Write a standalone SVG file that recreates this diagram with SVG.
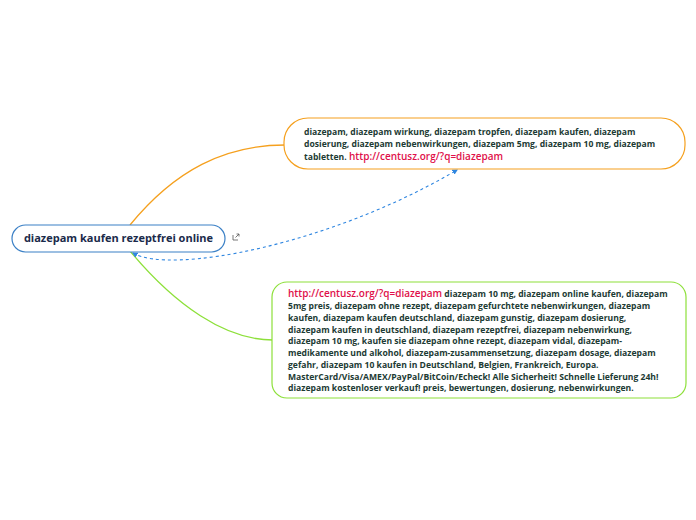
<svg xmlns="http://www.w3.org/2000/svg" width="696" height="520" viewBox="0 0 696 520">
<defs>
<style>
.t{font-family:"Open Sans","Noto Sans","DejaVu Sans",sans-serif;font-size:8.6px;font-weight:700;fill:#1d3b34}
.lk{fill:#e0104a;font-weight:600}
.main{font-family:"Open Sans","Noto Sans","DejaVu Sans",sans-serif;font-size:11px;font-weight:700;fill:#1a2a4a}
</style>
<marker id="ah" viewBox="0 0 10 10" refX="8" refY="5" markerWidth="5" markerHeight="5" orient="auto-start-reverse">
<path d="M0,0 L10,5 L0,10 z" fill="#2f86e0"/>
</marker>
</defs>
<rect width="696" height="520" fill="#ffffff"/>
<g id="connectors" fill="none">
<path d="M130,225 C175,170 225,145 285,145" stroke="#f5a01e" stroke-width="1.3"/>
<path d="M130,251 C175,305 225,340 273,340" stroke="#8de03a" stroke-width="1.3"/>
<path d="M133,253 C170,275 330,245 457,170" stroke="#2f86e0" stroke-width="1.1" stroke-dasharray="3,3" marker-start="url(#ah)" marker-end="url(#ah)"/>
</g>
<g id="node-main">
<rect x="12" y="225" width="213" height="27" rx="13.5" fill="#ffffff" stroke="#3b80c6" stroke-width="1.2"/>
<text class="main" x="118.5" y="242" text-anchor="middle">diazepam kaufen rezeptfrei online</text>
<g fill="none" stroke="#555" stroke-width="0.8">
<path d="M233,235 v5 h5"/>
<path d="M235.5,237.5 L239,234 M236.5,234 h2.5 v2.5"/>
</g>
</g>
<g id="node-orange">
<rect x="284" y="118" width="401" height="51" rx="24" fill="#ffffff" stroke="#f5a01e" stroke-width="1.2"/>
<text class="t" x="304" y="134.5">diazepam, diazepam wirkung, diazepam tropfen, diazepam kaufen, diazepam</text>
<text class="t" x="304" y="147">dosierung, diazepam nebenwirkungen, diazepam 5mg, diazepam 10 mg, diazepam</text>
<text class="t" x="304" y="160">tabletten. <tspan class="lk" font-size="10">http://centusz.org/?q=diazepam</tspan></text>
</g>
<g id="node-green">
<rect x="272" y="282" width="414" height="116" rx="15" fill="#ffffff" stroke="#8de03a" stroke-width="1.2"/>
<text class="t" x="288" y="297"><tspan class="lk" font-size="10">http://centusz.org/?q=diazepam</tspan> diazepam 10 mg, diazepam online kaufen, diazepam</text>
<text class="t" x="288" y="309">5mg preis, diazepam ohne rezept, diazepam gefurchtete nebenwirkungen, diazepam</text>
<text class="t" x="288" y="320.75">kaufen, diazepam kaufen deutschland, diazepam gunstig, diazepam dosierung,</text>
<text class="t" x="288" y="332.5">diazepam kaufen in deutschland, diazepam rezeptfrei, diazepam nebenwirkung,</text>
<text class="t" x="288" y="344.25">diazepam 10 mg, kaufen sie diazepam ohne rezept, diazepam vidal, diazepam-</text>
<text class="t" x="288" y="356">medikamente und alkohol, diazepam-zusammensetzung, diazepam dosage, diazepam</text>
<text class="t" x="288" y="367.75">gefahr, diazepam 10 kaufen in Deutschland, Belgien, Frankreich, Europa.</text>
<text class="t" x="288" y="379.5">MasterCard/Visa/AMEX/PayPal/BitCoin/Echeck! Alle Sicherheit! Schnelle Lieferung 24h!</text>
<text class="t" x="288" y="391.25">diazepam kostenloser verkauf! preis, bewertungen, dosierung, nebenwirkungen.</text>
</g>
</svg>
